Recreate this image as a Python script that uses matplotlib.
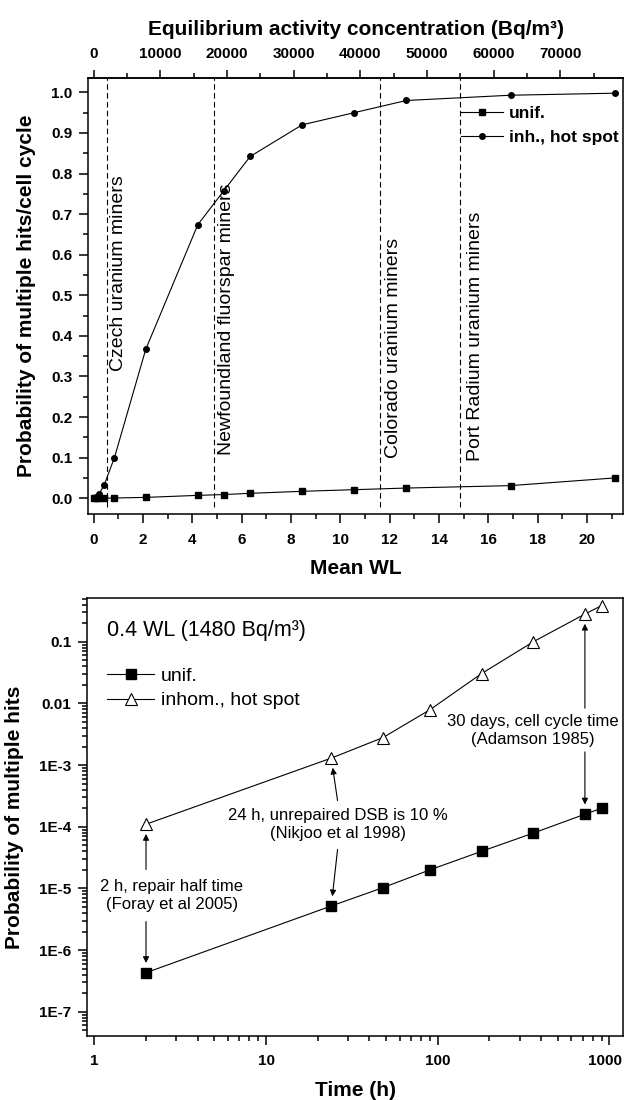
import numpy as np
import matplotlib
matplotlib.use("Agg")
import matplotlib.pyplot as plt
import matplotlib.transforms as mtransforms
from matplotlib.ticker import MultipleLocator, FixedLocator, FixedFormatter, LogLocator, NullFormatter

plt.rcParams['font.family'] = ['Liberation Sans', 'DejaVu Sans']
plt.rcParams['axes.linewidth'] = 1.1

# --- top panel: probability vs mean WL ---
wl = [0, 0.1, 0.21, 0.42, 0.84, 2.11, 4.22, 5.28, 6.34, 8.45, 10.56, 12.67, 16.9, 21.13]
p_unif = [0, 0, 0, 0.0001, 0.0005, 0.002, 0.007, 0.009, 0.012, 0.017, 0.021, 0.025, 0.031, 0.05]
p_inh = [0, 0.003, 0.01, 0.032, 0.1, 0.367, 0.674, 0.758, 0.842, 0.92, 0.95, 0.98, 0.993, 0.998]
miner_wl = [0.55, 4.88, 11.6, 14.86]
miner_names = ['Czech uranium miners', 'Newfoundland fluorspar miners',
               'Colorado uranium miners', 'Port Radium uranium miners']
bq_ticks = [0, 10000, 20000, 30000, 40000, 50000, 60000, 70000]
bq_per_wl = 3700

# --- bottom panel: probability vs time at 0.4 WL ---
hours = [2, 24, 48, 90, 180, 360, 720, 900]
t_unif = [4.3e-7, 5.2e-6, 1.03e-5, 2.0e-5, 4.0e-5, 7.9e-5, 1.6e-4, 2.0e-4]
t_inhom = [1.1e-4, 1.3e-3, 2.8e-3, 7.9e-3, 3.05e-2, 0.1, 0.282, 0.386]

fig = plt.figure(figsize=(6.24, 11), dpi=100)
ax1 = fig.add_axes([0.1415, 0.5327, 0.8574, 0.3966])
ax2 = fig.add_axes([0.1399, 0.0585, 0.8585, 0.3976])

# top panel
ax1.plot(wl, p_unif, '-', color='black', lw=0.8, marker='s', ms=4, label='unif.')
ax1.plot(wl, p_inh, '-', color='black', lw=0.8, marker='o', ms=4, label='inh., hot spot')
for x in miner_wl:
    ax1.plot([x, x], [-0.021, 1.04], color='black', lw=0.8, ls=(0, (5, 3)))
ax1.text(miner_wl[0] + 0.45, 0.313, miner_names[0], rotation=90, ha='center', va='bottom', fontsize=14)
ax1.text(miner_wl[1] + 0.52, 0.107, miner_names[1], rotation=90, ha='center', va='bottom', fontsize=14)
ax1.text(miner_wl[2] + 0.57, 0.100, miner_names[2], rotation=90, ha='center', va='bottom', fontsize=14)
ax1.text(miner_wl[3] + 0.61, 0.092, miner_names[3], rotation=90, ha='center', va='bottom', fontsize=14)

ax1.set_xlim(-0.22, 21.47)
ax1.set_ylim(-0.039, 1.036)
ax1.xaxis.set_major_locator(MultipleLocator(2))
ax1.xaxis.set_minor_locator(MultipleLocator(1))
ax1.yaxis.set_major_locator(MultipleLocator(0.1))
ax1.yaxis.set_minor_locator(MultipleLocator(0.05))
ax1.yaxis.set_major_formatter(plt.FuncFormatter(lambda v, p: f'{v:.1f}'))
ax1.tick_params(which='both', direction='out', top=False, right=False, width=1.1)
ax1.tick_params(which='major', length=6.5)
ax1.tick_params(which='minor', length=3.3)
ax1.tick_params(axis='x', pad=7)
ax1.tick_params(axis='y', pad=5)
for lab in ax1.get_xticklabels() + ax1.get_yticklabels():
    lab.set_fontweight('bold'); lab.set_fontsize(11)
ax1.set_xlabel('Mean WL', fontsize=15, fontweight='bold', labelpad=9)
ax1.set_ylabel('Probability of multiple hits/cell cycle', fontsize=15, fontweight='bold', labelpad=11)

sec = ax1.secondary_xaxis('top', functions=(lambda x: x * bq_per_wl, lambda x: x / bq_per_wl))
sec.xaxis.set_major_locator(FixedLocator(bq_ticks))
sec.xaxis.set_minor_locator(FixedLocator([b + 5000 for b in bq_ticks]))
sec.tick_params(which='both', direction='out', width=1.1, pad=6)
sec.tick_params(which='major', length=6)
sec.tick_params(which='minor', length=3.3)
for lab in sec.get_xticklabels():
    lab.set_fontweight('bold'); lab.set_fontsize(11)
sec.set_xlabel('Equilibrium activity concentration (Bq/m³)', fontsize=15, fontweight='bold', labelpad=9)

ax1.legend(loc='upper left', bbox_to_anchor=(0.697, 0.935), frameon=False,
           borderpad=0, borderaxespad=0, handlelength=2.4, handletextpad=0.35,
           labelspacing=0.5, prop={'weight': 'bold', 'size': 12.5})

# bottom panel
ax2.plot(hours, t_unif, '-', color='black', lw=0.8, marker='s', ms=7, label='unif.')
ax2.plot(hours, t_inhom, '-', color='black', lw=0.8, marker='^', ms=8, mfc='white', mec='black',
         mew=0.8, label='inhom., hot spot')
ax2.set_xscale('log')
ax2.set_yscale('log')
ax2.set_xlim(0.91, 1200)
ax2.set_ylim(4.1e-8, 0.508)
ax2.xaxis.set_major_locator(FixedLocator([1, 10, 100, 1000]))
ax2.xaxis.set_major_formatter(FixedFormatter(['1', '10', '100', '1000']))
ax2.xaxis.set_minor_locator(LogLocator(base=10, subs=np.arange(2, 10)))
ax2.xaxis.set_minor_formatter(NullFormatter())
ax2.yaxis.set_major_locator(FixedLocator([1e-7, 1e-6, 1e-5, 1e-4, 1e-3, 1e-2, 1e-1]))
ax2.yaxis.set_major_formatter(FixedFormatter(['1E-7', '1E-6', '1E-5', '1E-4', '1E-3', '0.01', '0.1']))
ax2.yaxis.set_minor_locator(LogLocator(base=10, subs=np.arange(2, 10), numticks=20))
ax2.yaxis.set_minor_formatter(NullFormatter())
ax2.tick_params(which='both', direction='out', top=False, right=False, width=1.1)
ax2.tick_params(which='major', length=6.5)
ax2.tick_params(which='minor', length=3.3)
ax2.tick_params(axis='x', pad=7)
ax2.tick_params(axis='y', pad=5)
for lab in ax2.get_xticklabels() + ax2.get_yticklabels():
    lab.set_fontweight('bold'); lab.set_fontsize(11)
# keep the "1000" label inside the figure edge
last = ax2.get_xticklabels()[-1]
last.set_transform(last.get_transform() + mtransforms.ScaledTranslation(-4 / 100, 0, fig.dpi_scale_trans))
ax2.set_xlabel('Time (h)', fontsize=15, fontweight='bold', labelpad=9)
ax2.set_ylabel('Probability of multiple hits', fontsize=15, fontweight='bold', labelpad=11)

ax2.text(0.0375, 0.926, '0.4 WL (1480 Bq/m³)', transform=ax2.transAxes, fontsize=15.5, va='center', ha='left')
ax2.legend(loc='upper left', bbox_to_anchor=(0.0375, 0.842), frameon=False,
           borderpad=0, borderaxespad=0, handlelength=2.4, handletextpad=0.35,
           labelspacing=0.35, prop={'size': 14})

note = dict(fontsize=12, ha='center', va='center', linespacing=1.25)
arrow = dict(arrowstyle='-|>', color='black', lw=0.8, mutation_scale=9, shrinkA=0, shrinkB=7)
ax2.text(360, 3.7e-3, '30 days, cell cycle time\n(Adamson 1985)', **note)
ax2.annotate('', xy=(hours[6], t_inhom[6]), xytext=(hours[6], 8.4e-3), arrowprops=arrow)
ax2.annotate('', xy=(hours[6], t_unif[6]), xytext=(hours[6], 1.64e-3), arrowprops=arrow)
ax2.text(26.3, 1.09e-4, '24 h, unrepaired DSB is 10 %\n(Nikjoo et al 1998)', **note)
ax2.annotate('', xy=(hours[1], t_inhom[1]), xytext=(26.1, 2.66e-4), arrowprops=arrow)
ax2.annotate('', xy=(hours[1], t_unif[1]), xytext=(26.1, 4.3e-5), arrowprops=arrow)
ax2.text(2.82, 7.6e-6, '2 h, repair half time\n(Foray et al 2005)', **note)
ax2.annotate('', xy=(hours[0], t_inhom[0]), xytext=(hours[0], 2.03e-5), arrowprops=arrow)
ax2.annotate('', xy=(hours[0], t_unif[0]), xytext=(hours[0], 2.9e-6), arrowprops=arrow)

fig.savefig('out.png', dpi=100)
